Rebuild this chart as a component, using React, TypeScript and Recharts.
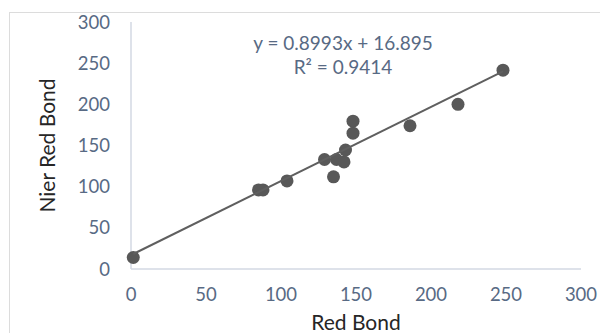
import {
  Scatter,
  ScatterChart,
  XAxis,
  YAxis,
} from 'recharts';

const redBond = [1.5, 85, 88, 104, 129, 135, 137, 142, 143, 148, 148, 186, 218, 248];
const nierRedBond = [14, 96, 96, 107, 133, 112, 133, 130, 144.5, 165, 179.5, 174, 200, 241.5];
const axisTicks = [0, 50, 100, 150, 200, 250, 300];

const slope = 0.8993;
const intercept = 16.895;
const rSquared = 0.9414;

const points = redBond.map((x, i) => ({ x, y: nierRedBond[i] }));

const xMin = Math.min(...redBond);
const xMax = Math.max(...redBond);
const trend = [
  { x: xMin, y: slope * xMin + intercept },
  { x: xMax, y: slope * xMax + intercept },
];

const tickStyle = { fontSize: 18.5, fill: '#586a84', fontFamily: 'Lato' };
const titleStyle = { fontSize: 21, fill: '#262626', fontFamily: 'Lato' };

const Dot = (props: any) => (
  <circle cx={props.cx} cy={props.cy} r={6.5} fill="#585858" />
);

export default function App() {
  return (
    <div
      style={{
        position: 'absolute',
        left: 0,
        top: 0,
        width: 600,
        height: 333,
        overflow: 'hidden',
        background: '#fff',
        fontFamily: 'Lato',
      }}
    >
      <div
        style={{
          position: 'absolute',
          left: 9,
          top: 12,
          width: 700,
          height: 400,
          border: '1px solid #dcdcdc',
        }}
      />
      <div style={{ position: 'absolute', left: 0, top: 0 }}>
        <ScatterChart
          width={600}
          height={333}
          margin={{ top: 22, right: 19, bottom: 0, left: 0 }}
        >
          <XAxis
            type="number"
            dataKey="x"
            domain={[0, 300]}
            ticks={axisTicks}
            interval={0}
            height={64}
            tickLine={false}
            tickSize={0}
            tickMargin={19}
            axisLine={{ stroke: '#d3d9e3', strokeWidth: 1.5 }}
            tick={tickStyle}
            label={{
              value: 'Red Bond',
              position: 'insideBottom',
              offset: 3,
              style: titleStyle,
            }}
          />
          <YAxis
            type="number"
            dataKey="y"
            domain={[0, 300]}
            ticks={axisTicks}
            interval={0}
            width={131}
            tickLine={false}
            tickSize={0}
            tickMargin={21}
            axisLine={{ stroke: '#d3d9e3', strokeWidth: 1.5 }}
            tick={tickStyle}
            label={{
              value: 'Nier Red Bond',
              angle: -90,
              position: 'insideLeft',
              offset: 48,
              style: { ...titleStyle, textAnchor: 'middle' },
            }}
          />
          <Scatter data={points} shape={Dot} isAnimationActive={false} />
          <Scatter
            data={trend}
            line={{ stroke: '#5f5f5f', strokeWidth: 2 }}
            shape={() => null}
            isAnimationActive={false}
          />
        </ScatterChart>
      </div>
      <div
        style={{
          position: 'absolute',
          left: 243,
          width: 200,
          top: 31,
          lineHeight: '24px',
          textAlign: 'center',
          fontSize: 19,
          color: '#586a84',
        }}
      >
        <div>
          y = {slope}x + {intercept}
        </div>
        <div>R² = {rSquared}</div>
      </div>
    </div>
  );
}
